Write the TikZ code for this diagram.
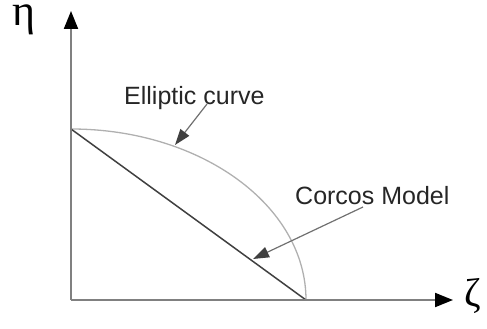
\documentclass[tikz,border=0pt]{standalone}
\usepackage{fontspec}
\setmainfont{Liberation Sans}
\newfontfamily\grk{Liberation Serif}
\usetikzlibrary{arrows.meta}
\definecolor{axisgray}{HTML}{808080}
\definecolor{linegray}{HTML}{404040}
\definecolor{ellgray}{HTML}{B0B0B0}
\definecolor{ptrgray}{HTML}{707070}
\tikzset{
  axisline/.style={draw=axisgray, line width=2pt, -{Triangle[length=18pt,width=14pt,fill=black,color=black]}},
  diag/.style={draw=linegray, line width=1.5pt},
  ellcurve/.style={draw=ellgray, line width=1.3pt},
  ptr/.style={draw=ptrgray, line width=1.2pt, -{Triangle[length=16pt,width=11pt,fill=linegray,color=linegray]}},
  lbl/.style={font=\fontsize{25}{30}\selectfont, text=black!85, inner sep=0pt, anchor=base west},
  greek/.style={font=\grk, inner sep=0pt, text height=0.45em, text depth=0.2em}
}
\begin{document}
\begin{tikzpicture}[x=1pt,y=-1pt]
\useasboundingbox (0,0) rectangle (487,329);
\coordinate (O) at (71,300);
\coordinate (ytip) at (71,11);
\coordinate (xtip) at (453,300);
\coordinate (A) at (71,129);
\coordinate (B) at (306,300);
\draw[ellcurve] (A) arc[start angle=90, end angle=0, x radius=235pt, y radius=171pt];
\draw[diag] (A) -- (B);
\draw[axisline] (O) -- (ytip);
\draw[axisline] (O) -- (xtip);
\node[greek, font=\grk\fontsize{44}{50}\selectfont, anchor=base] (eta) at (24.5,26) {η};
\node[greek, font=\grk\fontsize{40}{44}\selectfont, anchor=base west, text height=0.7em] (zeta) at (464,306) {ζ};
\node[lbl] (ell) at (124,104) {Elliptic curve};
\node[lbl] (cor) at (295,204) {Corcos Model};
\coordinate (ellS) at (207,104);
\coordinate (ellT) at (175,145);
\coordinate (corS) at (363,207);
\coordinate (corT) at (253,259);
\draw[ptr] (ellS) -- (ellT);
\draw[ptr] (corS) -- (corT);
\end{tikzpicture}
\end{document}
